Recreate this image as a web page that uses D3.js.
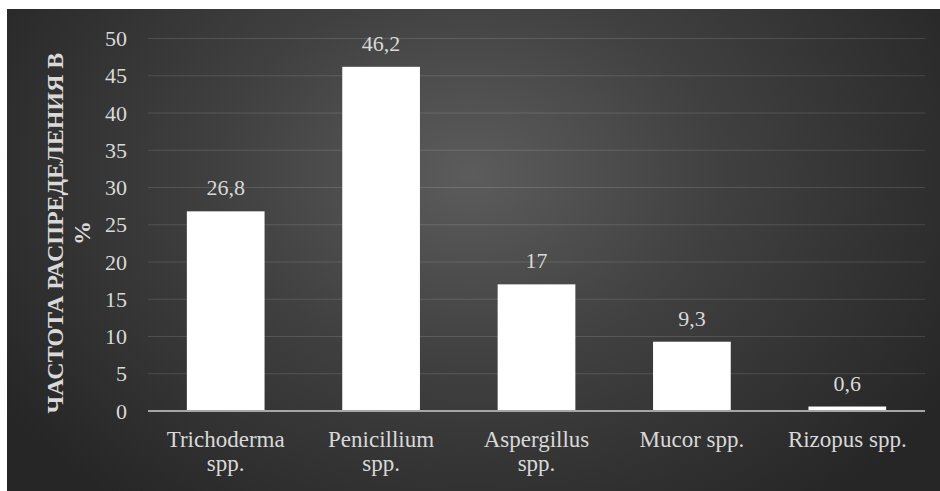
<!DOCTYPE html>
<html>
<head>
<meta charset="utf-8">
<script src="https://cdn.jsdelivr.net/npm/d3@7"></script>
<style>
  html, body { margin: 0; padding: 0; background: #ffffff; }
  svg { display: block; }
</style>
</head>
<body>
<svg id="chart" width="940" height="491"></svg>
<script>
// Genus of fungi and their share of isolates, %
const categories = [["Trichoderma", "spp."], ["Penicillium", "spp."], ["Aspergillus", "spp."], ["Mucor spp."], ["Rizopus spp."]];
const values = [26.8, 46.2, 17, 9.3, 0.6];
const valueLabels = ["26,8", "46,2", "17", "9,3", "0,6"];
const yTicks = [0, 5, 10, 15, 20, 25, 30, 35, 40, 45, 50];
const yTitle = ["ЧАСТОТА РАСПРЕДЕЛЕНИЯ В", "%"];

const FONT = "Liberation Serif, Tinos, Times New Roman, Times, Noto Serif, DejaVu Serif, FreeSerif, serif";
const svg = d3.select("#chart").style("font-family", FONT);
const W = 940, H = 491;
const plot = { left: 148, right: 925, top: 38.5, bottom: 411 };

// dark panel with a soft radial glow
const defs = svg.append("defs");
const grad = defs.append("radialGradient")
  .attr("id", "panelGlow")
  .attr("gradientUnits", "userSpaceOnUse")
  .attr("cx", 470).attr("cy", 175).attr("r", 560)
  .attr("gradientTransform", "translate(470,175) scale(1,0.75) translate(-470,-175)");
grad.append("stop").attr("offset", "0%").attr("stop-color", "#5c5c5c");
grad.append("stop").attr("offset", "45%").attr("stop-color", "#404040");
grad.append("stop").attr("offset", "100%").attr("stop-color", "#262626");

svg.append("rect")
  .attr("x", 7).attr("y", 9)
  .attr("width", W - 7).attr("height", H - 9)
  .attr("fill", "url(#panelGlow)");

const x = d3.scaleBand()
  .domain(d3.range(values.length))
  .range([plot.left, plot.right])
  .paddingInner(0.5)
  .paddingOuter(0.25);

const y = d3.scaleLinear()
  .domain([0, 50])
  .range([plot.bottom, plot.top]);

// horizontal gridlines
svg.append("g")
  .selectAll("line")
  .data(yTicks.filter(d => d > 0))
  .join("line")
  .attr("x1", plot.left).attr("x2", plot.right)
  .attr("y1", d => y(d)).attr("y2", d => y(d))
  .attr("stroke", "rgba(255,255,255,0.13)")
  .attr("stroke-width", 1);

// y tick labels
const yAxis = svg.append("g")
  .attr("transform", `translate(${plot.left - 21},0)`)
  .call(d3.axisLeft(y).tickValues(yTicks).tickSize(0).tickPadding(0));
yAxis.attr("font-family", null).attr("font-size", null);
yAxis.select(".domain").remove();
yAxis.selectAll("text")
  .attr("fill", "#d9d9d9")
  .style("font-family", FONT)
  .style("font-size", "22px");

// bars
svg.append("g")
  .selectAll("rect")
  .data(values)
  .join("rect")
  .attr("x", (d, i) => x(i))
  .attr("width", x.bandwidth())
  .attr("y", d => y(d))
  .attr("height", d => y(0) - y(d))
  .attr("fill", "#ffffff");

// baseline
svg.append("line")
  .attr("x1", plot.left).attr("x2", plot.right)
  .attr("y1", y(0)).attr("y2", y(0))
  .attr("stroke", "#a6a6a6")
  .attr("stroke-width", 2);

// value labels
svg.append("g")
  .selectAll("text")
  .data(values)
  .join("text")
  .attr("x", (d, i) => x(i) + x.bandwidth() / 2)
  .attr("y", d => y(d) - 16)
  .attr("text-anchor", "middle")
  .attr("fill", "#d9d9d9")
  .style("font-family", FONT)
  .style("font-size", "22px")
  .text((d, i) => valueLabels[i]);

// category labels
const cat = svg.append("g")
  .selectAll("text")
  .data(categories)
  .join("text")
  .attr("x", (d, i) => x(i) + x.bandwidth() / 2)
  .attr("y", 447)
  .attr("text-anchor", "middle")
  .attr("fill", "#d9d9d9")
  .style("font-family", FONT)
  .style("font-size", "23px");
cat.selectAll("tspan")
  .data((d, i) => d.map(s => ({ s, i })))
  .join("tspan")
  .attr("x", d => x(d.i) + x.bandwidth() / 2)
  .attr("dy", (d, j) => j === 0 ? 0 : 24)
  .text(d => d.s);

// y axis title
const yt = svg.append("text")
  .attr("transform", "translate(63,233) rotate(-90)")
  .attr("text-anchor", "middle")
  .attr("fill", "#d9d9d9")
  .style("font-family", FONT)
  .style("font-size", "24px")
  .style("font-weight", "bold");
yt.selectAll("tspan")
  .data(yTitle)
  .join("tspan")
  .attr("x", 0)
  .attr("dy", (d, j) => j === 0 ? 0 : 27)
  .text(d => d);
</script>
</body>
</html>
